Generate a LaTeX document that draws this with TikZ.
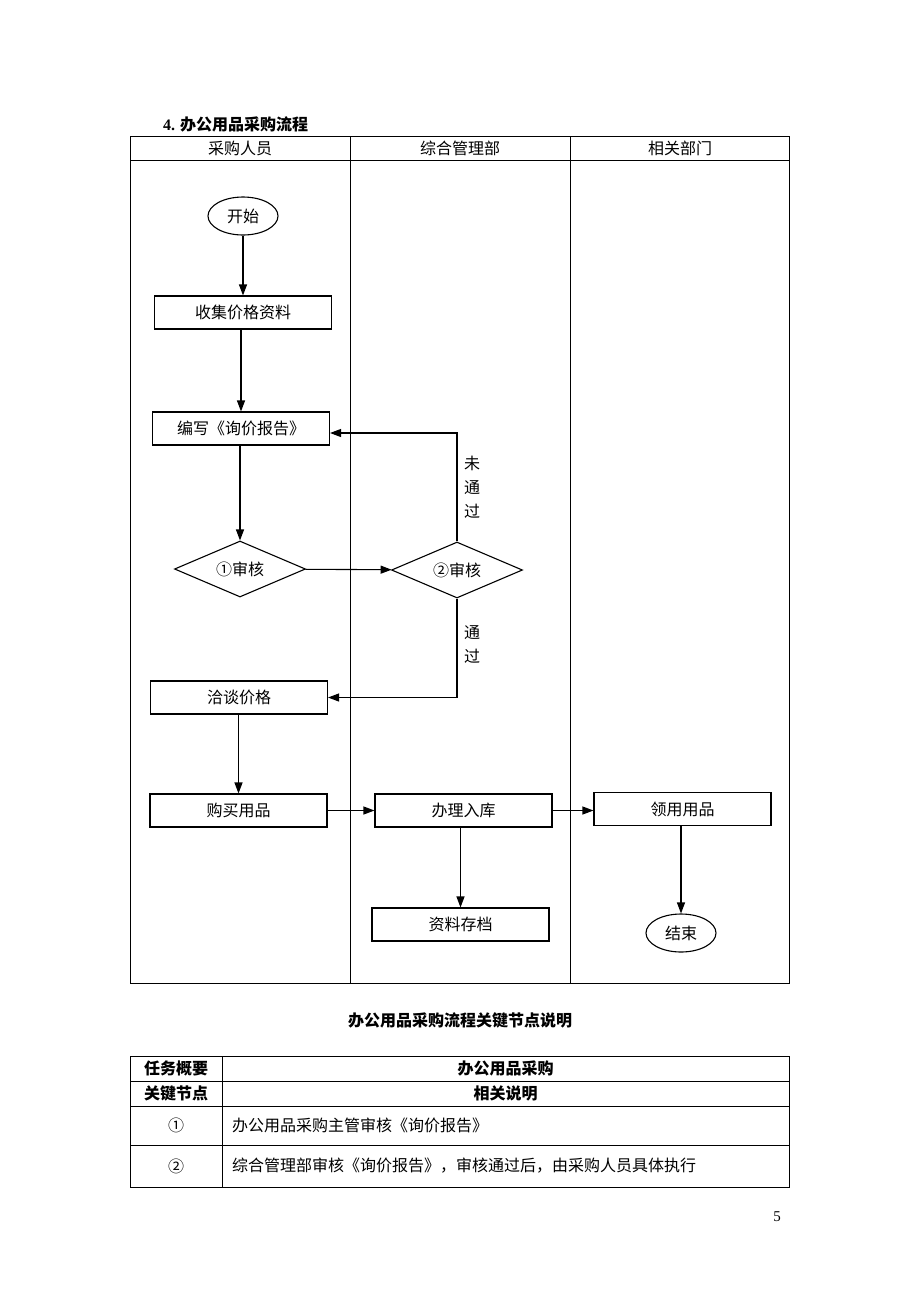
\documentclass[tikz,border=0pt]{standalone}
\usepackage{fontspec}
\setmainfont{Noto Sans CJK SC}
\newfontfamily\latin{Liberation Serif}
\usetikzlibrary{positioning, arrows.meta, shapes.geometric, calc}
\tikzstyle{txt} = [font=\fontsize{16}{18}\selectfont, inner sep=0pt]
\tikzstyle{bold} = [font=\fontsize{16}{18}\selectfont\bfseries, inner sep=0pt]
\tikzstyle{box} = [rectangle, draw, line width=1.1pt, minimum width=177pt, minimum height=33pt, inner sep=0pt, txt]
\tikzstyle{term} = [ellipse, draw, line width=1.1pt, minimum width=70pt, minimum height=38pt, inner sep=0pt, txt]
\tikzstyle{check} = [diamond, draw, line width=1.1pt, aspect=2.3, minimum width=131pt, minimum height=56pt, inner sep=0pt, txt]
\tikzstyle{line} = [draw, line width=1.1pt, -{Triangle[length=11pt, width=8pt]}]
\tikzstyle{grid} = [draw, line width=0.8pt]
\begin{document}
\begin{tikzpicture}[x=1pt, y=-1pt]
        \useasboundingbox[fill=white] (0,0) rectangle (920,1302);
        % Title
        \node (title) [bold, anchor=west] at (163,124) {{\latin 4.} 办公用品采购流程};
        % Lanes
        \draw[grid] (130,136) rectangle (789,983);
        \draw[grid] (130,160) -- (789,160);
        \draw[grid] (350,136) -- (350,983);
        \draw[grid] (570,136) -- (570,983);
        \node (lane1) [txt] at (240,148) {采购人员};
        \node (lane2) [txt] at (460,148) {综合管理部};
        \node (lane3) [txt] at (680,148) {相关部门};
        % Nodes
        \node (start) [term] at (243,216) {开始};
        \node (collect) [box] at (243,312.5) {收集价格资料};
        \node (draft) [box] at (241,428.5) {编写《询价报告》};
        \node (audit1) [check] at (240,569) {①审核};
        \node (audit2) [check] at (457,570) {②审核};
        \node (negotiate) [box] at (239,697.5) {洽谈价格};
        \node (buy) [box] at (238.5,810.5) {购买用品};
        \node (stock) [box] at (463.5,810.5) {办理入库};
        \node (receive) [box] at (682.5,809) {领用用品};
        \node (archive) [box] at (460.5,924.5) {资料存档};
        \node (finish) [term] at (681,933) {结束};
        \node (fail) [font=\fontsize{16}{24}\selectfont, align=center, inner sep=0pt] at (472,487) {未\\通\\过};
        \node (pass) [font=\fontsize{16}{24}\selectfont, align=center, inner sep=0pt] at (472,644) {通\\过};
        % Edges
        \path [line] (start) -- (collect);
        \path [line] (collect.south -| draft.north) -- (draft.north);
        \path [line] (draft.south -| audit1.north) -- (audit1.north);
        \path [line] (audit1) -- (audit2);
        \path [line] (audit2.north) |- ([yshift=-4.5pt]draft.east);
        \path [line] (audit2.south) |- (negotiate.east);
        \path [line] (negotiate.south -| buy.north) -- (buy.north);
        \path [line] (buy) -- (stock);
        \path [line] (stock.east) -- (stock.east -| receive.west);
        \path [line] (stock.south -| archive.north) -- (archive.north);
        \path [line] (receive.south -| finish.north) -- (finish.north);
        % Key nodes table
        \node (caption) [bold] at (460,1020) {办公用品采购流程关键节点说明};
        \draw[grid] (130,1056) rectangle (789,1187);
        \draw[grid] (222,1056) -- (222,1187);
        \foreach \y in {1081,1106,1145} \draw[grid] (130,\y) -- (789,\y);
        \node (task) [bold] at (176,1068.5) {任务概要};
        \node (taskval) [bold] at (505.5,1068.5) {办公用品采购};
        \node (key) [bold] at (176,1093.5) {关键节点};
        \node (keyval) [bold] at (505.5,1093.5) {相关说明};
        \node (k1) [txt] at (176,1125.5) {①};
        \node (d1) [txt, anchor=west] at (232,1125.5) {办公用品采购主管审核《询价报告》};
        \node (k2) [txt] at (176,1166) {②};
        \node (d2) [txt, anchor=west] at (232,1166) {综合管理部审核《询价报告》，审核通过后，由采购人员具体执行};
        \node (page) [font=\fontsize{15}{18}\selectfont\latin, inner sep=0pt] at (777,1217) {5};
    \end{tikzpicture}
\end{document}
